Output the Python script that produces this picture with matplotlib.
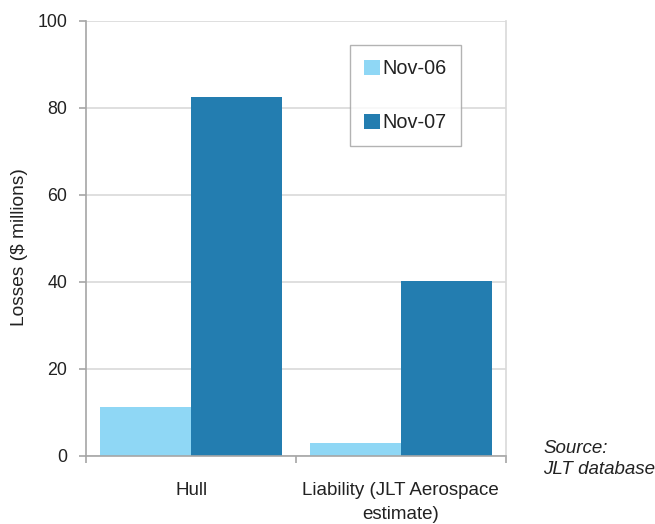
import numpy as np
import matplotlib
matplotlib.use("Agg")
import matplotlib.pyplot as plt

plt.rcParams['font.family'] = ['Liberation Sans', 'DejaVu Sans']

categories = ['Hull', 'Liability (JLT Aerospace\nestimate)']
series_names = ['Nov-06', 'Nov-07']
nov06 = [11.3, 3.0]
nov07 = [82.4, 40.1]
yticks = [0, 20, 40, 60, 80, 100]

light = '#8fd7f5'
dark = '#237db0'
grid_c = '#d9d9d9'
axis_c = '#a6a6a6'

fig = plt.figure(figsize=(6.55, 5.24), dpi=100)
ax = fig.add_axes([0.132, 0.13, 0.64, 0.8305])

x = np.arange(len(categories))
w = 0.435
ax.bar(x - w / 2, nov06, w, color=light, label=series_names[0], zorder=2)
ax.bar(x + w / 2, nov07, w, color=dark, label=series_names[1], zorder=2)

ax.set_xlim(-0.5, len(categories) - 0.5)
ax.set_ylim(0, 100)
ax.set_yticks(yticks)
ax.yaxis.grid(True, color=grid_c, linewidth=1.2, zorder=0)
ax.set_axisbelow(True)

ax.set_xticks(x)
ax.set_xticklabels(categories, fontsize=13.5, linespacing=1.5)
ax.tick_params(axis='x', which='major', length=0, pad=19)
ax.set_xticks(np.arange(len(categories) + 1) - 0.5, minor=True)
ax.tick_params(axis='x', which='minor', length=5, color=axis_c, width=1.2)
ax.tick_params(axis='y', length=5, color=axis_c, width=1.2, pad=9,
               labelsize=12.8, labelcolor='#222222')
ax.tick_params(axis='x', labelcolor='#222222')

for s in ['left', 'bottom']:
    ax.spines[s].set_color(axis_c)
    ax.spines[s].set_linewidth(1.2)
ax.spines['right'].set_color(grid_c)
ax.spines['right'].set_linewidth(1.2)
ax.spines['top'].set_visible(False)

ax.set_ylabel('Losses ($ millions)', fontsize=13.8, color='#222222')
ax.yaxis.set_label_coords(-0.14, 0.48)

leg = ax.legend(loc='upper left', bbox_to_anchor=(0.534, 0.914),
                bbox_transform=fig.transFigure, borderaxespad=0,
                fontsize=14.3, frameon=True, fancybox=False, shadow=False,
                handlelength=0.78, handleheight=0.78, handletextpad=0.15,
                labelspacing=1.75, borderpad=0.72)
leg.get_frame().set_edgecolor('#a0a0a0')
leg.get_frame().set_linewidth(1.0)
for t in leg.get_texts():
    t.set_color('#222222')

fig.text(0.829, 0.124, 'Source:\nJLT database', fontsize=13.5, style='italic',
         color='#222222', va='center', ha='left', linespacing=1.35)

fig.savefig('out.png', dpi=100)
